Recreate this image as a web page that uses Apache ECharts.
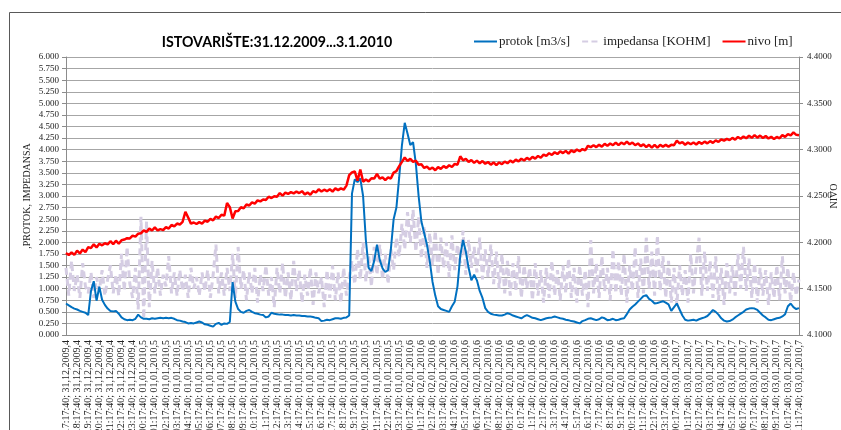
<!DOCTYPE html>
<html>
<head>
<meta charset="utf-8">
<script src="https://cdn.jsdelivr.net/npm/echarts@6/dist/echarts.min.js"></script>
<style>
html,body{margin:0;padding:0;background:#fff;overflow:hidden;}
#chart{width:841px;height:430px;}
</style>
</head>
<body>
<div id="chart"></div>
<script>
const titleText = 'ISTOVARIŠTE:31.12.2009...3.1.2010';
const seriesNames = ['protok [m3/s]', 'impedansa [KOHM]', 'nivo [m]'];

const hourLabels = [
'17:17:40; 31,12,2009,4','18:17:40; 31,12,2009,4','19:17:40; 31,12,2009,4','20:17:40; 31,12,2009,4','21:17:40; 31,12,2009,4','22:17:40; 31,12,2009,4','23:17:40; 31,12,2009,4',
'00:17:40; 01,01,2010,5','01:17:40; 01,01,2010,5','02:17:40; 01,01,2010,5','03:17:40; 01,01,2010,5','04:17:40; 01,01,2010,5','05:17:40; 01,01,2010,5','06:17:40; 01,01,2010,5','07:17:40; 01,01,2010,5','08:17:40; 01,01,2010,5','09:17:40; 01,01,2010,5','10:17:40; 01,01,2010,5','11:17:40; 01,01,2010,5',
'12:17:40; 01,01,2010,5','13:17:40; 01,01,2010,5','14:17:40; 01,01,2010,5','15:17:40; 01,01,2010,5','16:17:40; 01,01,2010,5','17:17:40; 01,01,2010,5','18:17:40; 01,01,2010,5','19:17:40; 01,01,2010,5','20:17:40; 01,01,2010,5','21:17:40; 01,01,2010,5','22:17:40; 01,01,2010,5','23:17:40; 01,01,2010,5',
'00:17:40; 02,01,2010,6','01:17:40; 02,01,2010,6','02:17:40; 02,01,2010,6','03:17:40; 02,01,2010,6','04:17:40; 02,01,2010,6','05:17:40; 02,01,2010,6','06:17:40; 02,01,2010,6','07:17:40; 02,01,2010,6','08:17:40; 02,01,2010,6','09:17:40; 02,01,2010,6','10:17:40; 02,01,2010,6','11:17:40; 02,01,2010,6',
'12:17:40; 02,01,2010,6','13:17:40; 02,01,2010,6','14:17:40; 02,01,2010,6','15:17:40; 02,01,2010,6','16:17:40; 02,01,2010,6','17:17:40; 02,01,2010,6','18:17:40; 02,01,2010,6','19:17:40; 02,01,2010,6','20:17:40; 02,01,2010,6','21:17:40; 02,01,2010,6','22:17:40; 02,01,2010,6','23:17:40; 02,01,2010,6',
'00:17:40; 03,01,2010,7','01:17:40; 03,01,2010,7','02:17:40; 03,01,2010,7','03:17:40; 03,01,2010,7','04:17:40; 03,01,2010,7','05:17:40; 03,01,2010,7','06:17:40; 03,01,2010,7','07:17:40; 03,01,2010,7','08:17:40; 03,01,2010,7','09:17:40; 03,01,2010,7','10:17:40; 03,01,2010,7','11:17:40; 03,01,2010,7'
];

// 4 samples per hour (every 15 min)
const protok = [
0.68,0.64,0.60,0.57, 0.55,0.52,0.50,0.48, 0.43,0.95,1.16,0.74, 1.04,0.76,0.65,0.57,
0.52,0.51,0.52,0.46, 0.38,0.34,0.32,0.33, 0.32,0.35,0.44,0.38, 0.35,0.35,0.34,0.36,
0.35,0.36,0.37,0.36, 0.37,0.36,0.37,0.35, 0.32,0.31,0.29,0.28, 0.25,0.26,0.25,0.27,
0.29,0.27,0.23,0.22, 0.20,0.18,0.24,0.26, 0.22,0.25,0.24,0.28, 1.14,0.72,0.56,0.50,
0.48,0.52,0.54,0.50, 0.47,0.46,0.44,0.43, 0.38,0.40,0.48,0.46, 0.45,0.44,0.44,0.43,
0.43,0.42,0.43,0.42, 0.42,0.41,0.41,0.40, 0.40,0.39,0.37,0.36, 0.30,0.31,0.33,0.32,
0.34,0.36,0.36,0.35, 0.37,0.38,0.42,3.05, 3.36,3.30,3.38,3.00, 2.05,1.45,1.38,1.60,
1.95,1.62,1.44,1.36, 1.40,1.85,2.50,2.75, 3.40,4.10,4.58,4.35, 4.10,4.16,3.70,3.00,
2.45,2.20,1.95,1.60, 1.15,0.85,0.62,0.56, 0.54,0.52,0.50,0.62, 0.72,1.05,1.72,2.05,
1.80,1.45,1.18,1.30, 1.18,0.95,0.80,0.58, 0.50,0.46,0.44,0.43, 0.42,0.42,0.44,0.47,
0.45,0.42,0.40,0.38, 0.36,0.40,0.43,0.40, 0.37,0.36,0.34,0.32, 0.34,0.36,0.37,0.38,
0.40,0.38,0.36,0.35, 0.33,0.32,0.30,0.29, 0.27,0.25,0.30,0.32, 0.35,0.36,0.34,0.32,
0.34,0.38,0.36,0.32, 0.33,0.35,0.32,0.33, 0.35,0.36,0.45,0.55, 0.61,0.66,0.72,0.78,
0.84,0.86,0.78,0.74, 0.68,0.69,0.71,0.73, 0.70,0.66,0.52,0.60, 0.68,0.55,0.42,0.33,
0.31,0.32,0.33,0.31, 0.34,0.36,0.38,0.41, 0.47,0.54,0.50,0.44, 0.36,0.31,0.29,0.30,
0.33,0.38,0.42,0.46, 0.50,0.55,0.57,0.58, 0.57,0.54,0.48,0.42, 0.38,0.33,0.32,0.34,
0.36,0.37,0.40,0.45, 0.62,0.68,0.60,0.56, 0.58
];

const impedansa = [
1.45,0.85,1.60,0.95, 1.30,0.80,1.55,1.05, 0.90,1.35,0.80,1.25, 0.95,1.40,0.85,1.20,
1.50,0.90,1.30,0.85, 1.75,0.95,1.90,1.10, 0.80,1.45,0.55,2.55, 0.35,2.45,0.60,1.60,
0.90,1.45,0.85,1.30, 1.05,1.70,0.90,1.35, 0.85,1.40,0.95,1.30, 0.80,1.45,1.00,1.25,
0.85,1.35,0.95,1.40, 0.80,1.30,1.95,0.90, 1.35,0.85,1.45,0.95, 1.75,0.80,1.90,1.00,
1.40,0.75,1.35,0.90, 1.45,0.70,1.30,0.95, 1.50,0.85,1.25,0.60, 1.45,0.90,1.55,0.80,
1.35,0.75,1.60,0.95, 1.40,0.70,1.30,0.85, 1.45,0.65,1.35,0.90, 1.25,0.60,1.40,0.80,
1.50,0.75,1.35,0.70, 1.45,0.85,1.25,1.60, 1.10,1.85,1.20,2.00, 1.15,1.70,1.05,1.90,
1.30,1.95,1.20,1.75, 1.10,1.85,1.40,2.10, 1.70,2.40,1.85,2.65, 2.00,2.70,1.80,2.55,
1.65,2.35,1.45,2.20, 1.50,2.25,1.30,2.10, 1.45,2.00,1.25,2.15, 1.40,1.95,1.55,2.25,
1.30,2.05,1.45,1.90, 1.35,2.10,1.20,1.85, 1.25,1.95,1.10,1.80, 1.00,1.75,0.90,1.60,
0.85,1.55,0.95,1.70, 0.80,1.50,1.00,1.45, 0.75,1.55,0.85,1.40, 0.70,1.45,0.80,1.60,
0.85,1.40,0.75,1.50, 0.90,1.65,0.80,1.45, 0.70,1.50,0.85,1.40, 0.60,2.05,0.90,1.55,
0.80,1.70,0.95,1.45, 0.75,1.85,0.90,1.60, 0.85,1.75,0.70,1.50, 0.95,1.90,0.80,1.65,
0.90,2.10,1.00,1.80, 0.85,2.15,0.95,1.70, 0.80,1.60,0.70,1.45, 0.65,1.50,0.85,1.40,
0.70,1.75,0.90,1.55, 2.10,0.85,1.80,0.95, 1.60,0.80,1.70,0.75, 1.45,0.65,1.55,0.90,
1.50,0.85,1.75,1.00, 1.90,0.95,1.65,0.80, 1.55,0.70,1.45,0.85, 1.40,0.65,1.35,0.80,
1.50,0.75,1.70,0.90, 1.45,0.70,1.35,0.85, 1.20
];

const nivo = [
4.1885,4.1862,4.1892,4.1865, 4.1910,4.1880,4.1922,4.1895, 4.1948,4.1938,4.1978,4.1945, 4.1985,4.1968,4.1990,4.1978,
4.2012,4.1980,4.2018,4.1985, 4.2022,4.2030,4.2045,4.2042, 4.2072,4.2062,4.2093,4.2098, 4.2128,4.2112,4.2148,4.2128,
4.2162,4.2128,4.2142,4.2132, 4.2165,4.2148,4.2188,4.2172, 4.2203,4.2192,4.2222,4.2330, 4.2268,4.2202,4.2214,4.2198,
4.2218,4.2202,4.2234,4.2222, 4.2254,4.2238,4.2278,4.2262, 4.2298,4.2288,4.2425,4.2380, 4.2258,4.2335,4.2338,4.2378,
4.2368,4.2408,4.2398,4.2432, 4.2418,4.2452,4.2442,4.2462, 4.2458,4.2492,4.2478,4.2498, 4.2492,4.2532,4.2503,4.2537,
4.2522,4.2542,4.2528,4.2548, 4.2532,4.2552,4.2518,4.2537, 4.2513,4.2552,4.2538,4.2572, 4.2548,4.2568,4.2552,4.2572,
4.2548,4.2582,4.2563,4.2582, 4.2568,4.2612,4.2725,4.2755, 4.2765,4.2665,4.2785,4.2655, 4.2678,4.2658,4.2692,4.2688,
4.2738,4.2688,4.2702,4.2672, 4.2702,4.2688,4.2752,4.2768, 4.2822,4.2868,4.2915,4.2878, 4.2902,4.2868,4.2882,4.2838,
4.2842,4.2803,4.2817,4.2788, 4.2807,4.2778,4.2812,4.2793, 4.2822,4.2803,4.2832,4.2813, 4.2847,4.2838,4.2928,4.2885,
4.2902,4.2868,4.2887,4.2858, 4.2882,4.2853,4.2877,4.2848, 4.2867,4.2838,4.2862,4.2833, 4.2862,4.2843,4.2872,4.2853,
4.2882,4.2863,4.2892,4.2873, 4.2902,4.2883,4.2912,4.2893, 4.2922,4.2903,4.2932,4.2913, 4.2947,4.2933,4.2962,4.2943,
4.2972,4.2953,4.2982,4.2963, 4.2987,4.2958,4.2992,4.2973, 4.3002,4.2983,4.3007,4.2993, 4.3042,4.3028,4.3047,4.3028,
4.3052,4.3033,4.3062,4.3043, 4.3067,4.3048,4.3077,4.3048, 4.3077,4.3058,4.3087,4.3058, 4.3077,4.3048,4.3067,4.3038,
4.3057,4.3028,4.3052,4.3023, 4.3052,4.3023,4.3052,4.3033, 4.3052,4.3033,4.3052,4.3048, 4.3097,4.3068,4.3082,4.3053,
4.3077,4.3058,4.3077,4.3056, 4.3082,4.3063,4.3087,4.3068, 4.3092,4.3073,4.3100,4.3083, 4.3112,4.3098,4.3117,4.3103,
4.3127,4.3108,4.3137,4.3118, 4.3142,4.3123,4.3150,4.3128, 4.3157,4.3130,4.3152,4.3126, 4.3147,4.3120,4.3140,4.3114,
4.3137,4.3123,4.3157,4.3138, 4.3167,4.3153,4.3187,4.3160, 4.3155
];

// categories: each hour label followed by 3 quarter-hour sub-points
const SUB = 4;
const categories = [];
hourLabels.forEach((lab, i) => {
  categories.push(lab);
  if (i < hourLabels.length - 1) {
    categories.push(lab.replace(':17:40', ':32:40'));
    categories.push(lab.replace(':17:40', ':47:40'));
    categories.push(lab.replace(':17:40', ':59:40'));
  }
});

const serif = '"Liberation Serif", "Times New Roman", serif';
const chart = echarts.init(document.getElementById('chart'), null, {renderer: 'canvas'});

const graphics = [{
  type: 'rect', left: 7, top: 10, shape: {width: 900, height: 500},
  style: {fill: 'none', stroke: '#595959', lineWidth: 1}, silent: true, z: -10
}];
if (protok.length !== categories.length || impedansa.length !== categories.length || nivo.length !== categories.length) {
  graphics.push({type: 'text', left: 100, top: 100, style: {text: 'LEN ' + categories.length + ' ' + protok.length + ' ' + impedansa.length + ' ' + nivo.length, fill: '#f00', fontSize: 20}});
}

const colProtok = '#0070c0', colImp = '#d5cde3', colNivo = '#ff0000';

chart.setOption({
  animation: false,
  backgroundColor: '#fff',
  graphic: graphics,
  title: {
    text: titleText,
    left: 272, top: 30, textAlign: 'center',
    textStyle: {fontFamily: 'Lato, "Liberation Sans", sans-serif', fontWeight: 'bold', fontSize: 14.2, color: '#000'}
  },
  legend: {
    left: 469, top: 30,
    itemWidth: 23, itemHeight: 2, itemGap: 12,
    data: [
      {name: seriesNames[0], icon: 'rect', itemStyle: {color: colProtok}},
      {name: seriesNames[1], icon: 'path://M0,0h9v3H0z M14,0h9v3H14z', itemStyle: {color: colImp}},
      {name: seriesNames[2], icon: 'rect', itemStyle: {color: colNivo}}
    ],
    textStyle: {fontFamily: serif, fontSize: 13, color: '#222', padding: [0, 0, 0, -3]}
  },
  grid: {left: 66, right: 42, top: 57, bottom: 95, containLabel: false, outerBoundsMode: 'none'},
  xAxis: {
    type: 'category',
    data: categories,
    boundaryGap: false,
    axisLine: {show: true, lineStyle: {color: '#8c8c8c', width: 1}},
    axisTick: {show: false},
    splitLine: {show: false},
    axisLabel: {
      interval: SUB - 1,
      rotate: 90,
      margin: 5,
      fontFamily: serif, fontSize: 10, color: '#222'
    }
  },
  yAxis: [{
    type: 'value', min: 0, max: 6, interval: 0.25,
    name: ',PROTOK, IMPEDANSA', nameLocation: 'middle', nameRotate: 90, nameGap: 34, nameMoveOverlap: false,
    nameTextStyle: {fontFamily: serif, fontSize: 10, color: '#222'},
    axisLine: {show: true, lineStyle: {color: '#8c8c8c'}},
    axisTick: {show: true, length: 4, lineStyle: {color: '#8c8c8c'}},
    splitLine: {show: true, lineStyle: {color: '#a6a6a6', width: 1}},
    axisLabel: {formatter: v => v.toFixed(3), fontFamily: serif, fontSize: 9, color: '#222', margin: 7}
  }, {
    type: 'value', min: 4.1, max: 4.4, interval: 0.05, position: 'right',
    name: 'NIVO', nameLocation: 'middle', nameRotate: 90, nameGap: 30, nameMoveOverlap: false,
    nameTextStyle: {fontFamily: serif, fontSize: 10, color: '#222'},
    axisLine: {show: true, lineStyle: {color: '#8c8c8c'}},
    axisTick: {show: true, length: 4, lineStyle: {color: '#8c8c8c'}},
    splitLine: {show: false},
    axisLabel: {formatter: v => v.toFixed(4), fontFamily: serif, fontSize: 9, color: '#222', margin: 8}
  }],
  series: [{
    name: seriesNames[0], type: 'line', yAxisIndex: 0, data: protok,
    symbol: 'none', showSymbol: false, z: 4,
    lineStyle: {color: colProtok, width: 2}, itemStyle: {color: colProtok}
  }, {
    name: seriesNames[1], type: 'line', yAxisIndex: 0, data: impedansa,
    symbol: 'none', showSymbol: false, z: 2,
    lineStyle: {color: colImp, width: 3, type: [7, 4]}, itemStyle: {color: colImp}
  }, {
    name: seriesNames[2], type: 'line', yAxisIndex: 1, data: nivo,
    symbol: 'none', showSymbol: false, z: 5,
    lineStyle: {color: colNivo, width: 2.5}, itemStyle: {color: colNivo}
  }]
});
</script>
</body>
</html>
